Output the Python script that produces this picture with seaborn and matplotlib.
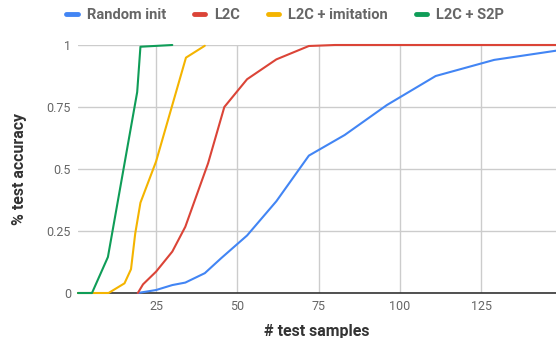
import numpy as np
import pandas as pd
import seaborn as sns
import matplotlib.pyplot as plt

# data
series_names = ['Random init', 'L2C', 'L2C + imitation', 'L2C + S2P']
colors = ['#4285F4', '#DB4437', '#F4B400', '#0F9D58']

random_x = [19.4, 25, 30, 34, 40, 45, 53, 62, 72, 83, 96, 111, 129, 148]
random_y = [0, 0.012, 0.032, 0.042, 0.08, 0.14, 0.232, 0.37, 0.554, 0.637, 0.758, 0.875, 0.94, 0.977]

l2c_x = [19.4, 21, 25, 30, 34, 41, 46, 53, 62, 72, 80, 148]
l2c_y = [0, 0.035, 0.086, 0.167, 0.267, 0.523, 0.75, 0.862, 0.942, 0.996, 1.0, 1.0]

imit_x = [1, 10.4, 15.3, 17.3, 18.6, 20.2, 25, 34.2, 40]
imit_y = [0, 0, 0.039, 0.096, 0.24, 0.364, 0.53, 0.949, 0.997]

s2p_x = [1, 5.3, 10.2, 19.2, 20.2, 30]
s2p_y = [0, 0, 0.145, 0.81, 0.993, 1.0]

xticks = [25, 50, 75, 100, 125]
yticks = [0, 0.25, 0.5, 0.75, 1]
ytick_labels = ['0', '0.25', '0.5', '0.75', '1']

#build long table
frames = []
for name, xs, ys in zip(series_names, [random_x, l2c_x, imit_x, s2p_x],
                        [random_y, l2c_y, imit_y, s2p_y]):
    frames.append(pd.DataFrame({'samples': xs, 'acc': ys, 'method': name}))
df = pd.concat(frames, ignore_index=True)

sns.set_style('white')
plt.rcParams['font.family'] = ['Roboto', 'DejaVu Sans']

fig = plt.figure(figsize=(5.56, 3.38), dpi=100)
ax = fig.add_axes([78/556, 1-293/338, 1-78/556, (293-45)/338])

sns.lineplot(data=df, x='samples', y='acc', hue='method', hue_order=series_names,
             palette=colors, lw=1.5, sort=False, estimator=None, ax=ax, clip_on=False, zorder=3)

ax.set_xlim(1, 148)
ax.set_ylim(0, 1)
ax.set_xticks(xticks)
ax.set_yticks(yticks)
ax.set_yticklabels(ytick_labels)
ax.tick_params(axis='both', length=0, labelsize=9, colors='#666666')
ax.tick_params(axis='x', pad=5)
ax.tick_params(axis='y', pad=5)
ax.grid(True, color='#cccccc', lw=1)
ax.set_axisbelow(True)
for s in ['top', 'right', 'left']:
    ax.spines[s].set_visible(False)
ax.spines['bottom'].set_color('#333333')
ax.spines['bottom'].set_linewidth(1.2)
ax.spines['bottom'].set_zorder(2)

ax.set_xlabel('# test samples', fontsize=11.5, fontweight='bold', color='#333333', labelpad=8)
ax.set_ylabel('% test accuracy', fontsize=11.5, fontweight='bold', color='#333333', labelpad=14)

handles, labels = ax.get_legend_handles_labels()
ax.get_legend().remove()
leg = fig.legend(handles, labels, loc='center', bbox_to_anchor=(0.513, 1-15/338), ncol=4,
                 frameon=False, handlelength=0.8, handletextpad=0.6,
                 columnspacing=1.9, prop={'weight': 'bold', 'size': 10.5})
for t in leg.get_texts():
    t.set_color('#666666')
for h in leg.get_lines():
    h.set_linewidth(3.5)

plt.savefig('out.png', dpi=100)
